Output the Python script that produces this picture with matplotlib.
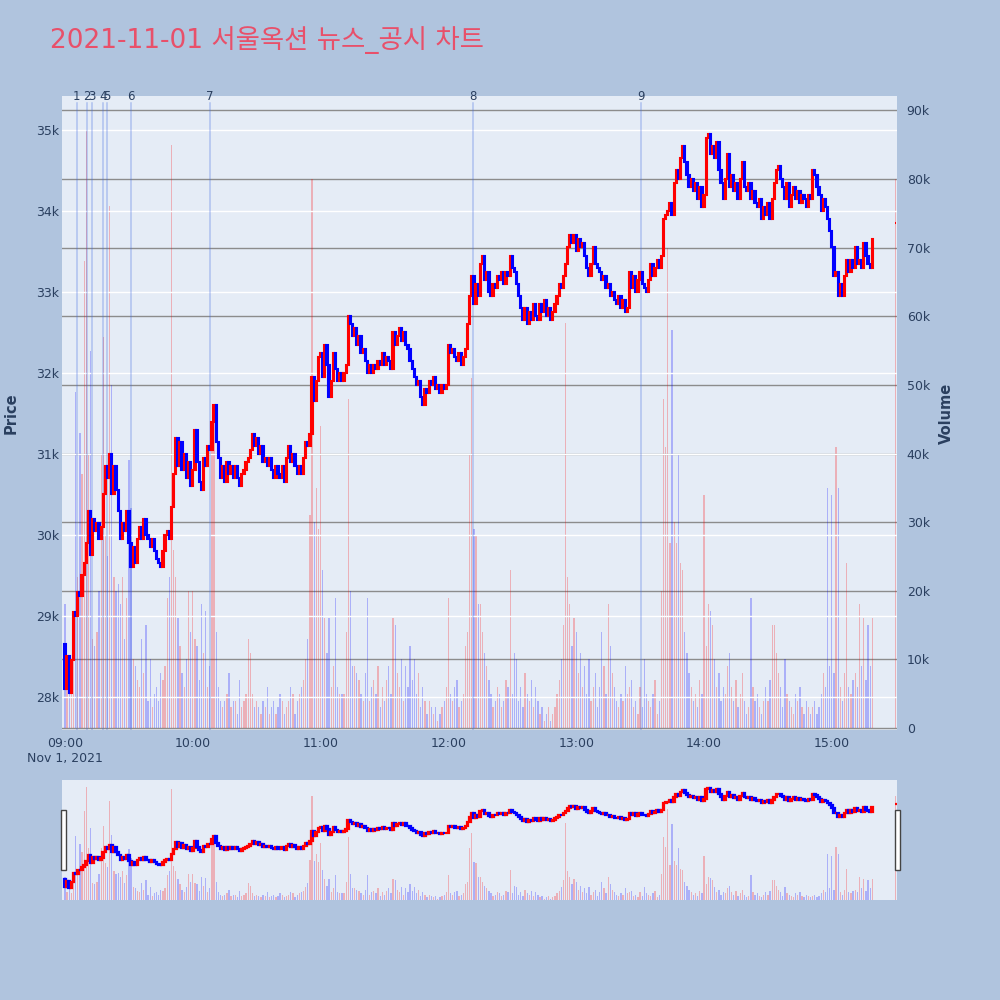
import numpy as np
import matplotlib.pyplot as plt
from matplotlib.patches import Rectangle

plt.rcParams['font.family'] = ['DejaVu Sans', 'Noto Sans CJK KR']

# 1-minute closes from 09:00 (index = minutes after 09:00)
close = [
    28100, 28500, 28050, 28450, 29050, 29000, 29300, 29250, 29500, 29650,
    29900, 30300, 29750, 30200, 30050, 30150, 29950, 30100, 30500, 30850,
    30700, 31000, 30500, 30850, 30550, 30300, 29950, 30150, 30050, 30300,
    29900, 29600, 29850, 29650, 29950, 30100, 29950, 30200, 30000, 29950,
    29850, 29950, 29800, 29700, 29650, 29600, 29800, 30000, 30050, 29950,
    30350, 30750, 31200, 30850, 31150, 30800, 31000, 30700, 30900, 30600,
    30800, 31300, 30900, 30650, 30550, 30950, 30850, 31100, 31050, 31400,
    31600, 31150, 30950, 30700, 30850, 30650, 30900, 30750, 30850, 30700,
    30850, 30700, 30600, 30750, 30800, 30900, 30950, 31050, 31250, 31100,
    31200, 31000, 31100, 30900, 30950, 30850, 30950, 30800, 30700, 30850,
    30750, 30700, 30850, 30650, 30950, 31100, 30900, 31000, 30850, 30750,
    30850, 30750, 30950, 31150, 31100, 31250, 31950, 31650, 31900, 32200,
    32250, 31950, 32350, 32100, 31700, 31900, 32250, 32050, 31900, 32000,
    31900, 32000, 32100, 32700, 32600, 32450, 32550, 32350, 32450, 32250,
    32300, 32150, 32000, 32100, 32000, 32100, 32050, 32150, 32100, 32250,
    32100, 32200, 32150, 32050, 32500, 32350, 32450, 32550, 32400, 32500,
    32350, 32300, 32150, 32050, 31950, 31850, 31900, 31700, 31600, 31800,
    31750, 31900, 31850, 31950, 31800, 31850, 31750, 31850, 31800, 31850,
    32350, 32250, 32300, 32200, 32150, 32250, 32100, 32200, 32300, 32600,
    32950, 33200, 32850, 33100, 32950, 33350, 33450, 33150, 33250, 33000,
    32950, 33100, 33050, 33200, 33150, 33250, 33100, 33250, 33200, 33450,
    33300, 33250, 33100, 32950, 32800, 32650, 32800, 32600, 32750, 32650,
    32850, 32700, 32650, 32850, 32750, 32900, 32700, 32800, 32650, 32750,
    32850, 32950, 33100, 33050, 33200, 33350, 33550, 33700, 33600, 33700,
    33500, 33650, 33550, 33600, 33450, 33300, 33200, 33350, 33550, 33350,
    33300, 33250, 33150, 33200, 33050, 33100, 32950, 33000, 32900, 32850,
    32950, 32800, 32900, 32750, 32800, 33250, 33050, 33200, 33000, 33150,
    33250, 33100, 33050, 33000, 33150, 33350, 33200, 33300, 33400, 33300,
    33450, 33900, 33950, 34000, 34100, 33950, 34350, 34500, 34400, 34650,
    34800, 34600, 34450, 34300, 34400, 34250, 34350, 34150, 34300, 34050,
    34200, 34900, 34950, 34700, 34800, 34650, 34850, 34500, 34350, 34150,
    34400, 34700, 34300, 34450, 34250, 34350, 34150, 34400, 34600, 34300,
    34250, 34350, 34150, 34250, 34100, 34050, 34150, 33900, 34050, 33950,
    34100, 33900, 34150, 34350, 34500, 34550, 34400, 34300, 34150, 34350,
    34050, 34200, 34300, 34150, 34250, 34100, 34200, 34150, 34050, 34200,
    34150, 34500, 34450, 34300, 34200, 34000, 34150, 34050, 33900, 33750,
    33550, 33200, 33250, 32950, 33100, 32950, 33200, 33400, 33250, 33400,
    33300, 33550, 33350, 33400, 33300, 33600, 33450, 33350, 33300, 33650,
]

# volume per minute, thousands of shares
volume_k = [
    18, 6, 9, 5, 14, 49, 22, 43, 37, 68,
    87, 40, 55, 13, 12, 14, 20, 40, 57, 28,
    25, 76, 50, 22, 20, 21, 18, 22, 13, 19,
    39, 32, 10, 9, 7, 6, 13, 8, 15, 4,
    10, 3, 5, 6, 4, 8, 7, 9, 19, 22,
    85, 26, 22, 16, 12, 8, 6, 10, 20, 14,
    20, 13, 12, 7, 18, 11, 17, 6, 9, 43,
    47, 14, 6, 4, 3, 4, 5, 8, 3, 4,
    4, 2, 7, 3, 4, 5, 13, 11, 5, 3,
    4, 3, 2, 4, 3, 6, 2, 3, 4, 2,
    3, 5, 4, 2, 3, 4, 6, 5, 2, 4,
    5, 6, 7, 10, 13, 31, 80, 30, 35, 29,
    44, 23, 16, 11, 16, 6, 9, 19, 6, 5,
    5, 5, 14, 48, 20, 9, 9, 8, 7, 5,
    4, 8, 19, 4, 6, 7, 5, 9, 3, 6,
    4, 7, 9, 5, 16, 15, 8, 6, 10, 4,
    9, 6, 12, 7, 10, 5, 8, 3, 6, 4,
    2, 4, 3, 2, 3, 1, 2, 3, 4, 6,
    19, 5, 4, 6, 7, 3, 4, 5, 12, 14,
    40, 51, 29, 28, 18, 18, 14, 11, 9, 7,
    5, 3, 4, 6, 5, 3, 4, 7, 6, 23,
    5, 11, 10, 4, 6, 3, 8, 5, 4, 7,
    3, 6, 4, 2, 3, 1, 2, 3, 1, 2,
    3, 5, 7, 10, 15, 59, 22, 18, 12, 16,
    14, 8, 11, 6, 9, 5, 10, 4, 6, 8,
    3, 6, 14, 9, 5, 18, 12, 8, 6, 4,
    3, 5, 4, 9, 5, 6, 7, 3, 4, 2,
    6, 3, 10, 5, 4, 3, 5, 7, 2, 4,
    20, 48, 41, 70, 27, 58, 30, 27, 40, 24,
    23, 14, 11, 8, 6, 4, 5, 3, 7, 5,
    34, 12, 18, 17, 15, 10, 6, 8, 4, 6,
    5, 9, 11, 6, 4, 7, 3, 5, 8, 4,
    2, 3, 19, 6, 4, 5, 3, 2, 4, 6,
    4, 7, 15, 15, 11, 8, 6, 3, 10, 5,
    4, 3, 2, 5, 4, 6, 3, 2, 4, 3,
    2, 3, 4, 2, 3, 5, 8, 6, 35, 9,
    34, 8, 41, 35, 6, 4, 8, 24, 6, 5,
    7, 8, 6, 18, 9, 16, 7, 15, 9, 16,
]

first_open = 28650
auction_minute = 390      # 15:30 closing auction
auction_price = 33850
auction_volume_k = 80

news_minutes = [5.6, 10.3, 12.7, 17.8, 19.7, 30.9, 68.0, 191.7, 270.5]
news_labels = ['1', '2', '3', '4', '5', '6', '7', '8', '9']

hour_ticks = [0, 60, 120, 180, 240, 300, 360]
hour_labels = ['09:00\nNov 1, 2021', '10:00', '11:00', '12:00', '13:00', '14:00', '15:00']
price_ticks = [28000, 29000, 30000, 31000, 32000, 33000, 34000, 35000]
vol_ticks = [0, 10000, 20000, 30000, 40000, 50000, 60000, 70000, 80000, 90000]

# ---- derived arrays
x = np.append(np.arange(len(close)), auction_minute)
c = np.array(close + [auction_price], dtype=float)
o = np.concatenate([[first_open], c[:-1]])
o[-1] = auction_price
v = np.array(volume_k + [auction_volume_k]) * 1000.0
up = c >= o
ccol = np.where(up, '#ff0000', '#0000ff')
vcol = [(1, 0, 0, 0.25) if u else (0, 0, 1, 0.25) for u in up]

TXT = '#2a3f5f'
PLOT_BG = '#e5ecf6'

fig = plt.figure(figsize=(10, 10), dpi=100)
fig.patch.set_facecolor('#b0c4de')


def draw_candles(axis, width, lw):
    lo = np.minimum(o, c)
    h = np.abs(c - o)
    axis.bar(x, h, width, bottom=lo, color=ccol, edgecolor=ccol,
             linewidth=lw, zorder=3)


# ---- main chart
ax = fig.add_axes([0.062, 0.270, 0.835, 0.634])
ax_v = ax.twinx()
ax.set_zorder(ax_v.get_zorder() + 1)
ax.patch.set_visible(False)
ax_v.patch.set_visible(True)
ax_v.patch.set_facecolor(PLOT_BG)

ax_v.bar(x, v, 0.6, color=vcol, zorder=2)
ax_v.set_ylim(-290, 92100)
ax_v.set_yticks(vol_ticks)
ax_v.set_yticklabels(['0'] + ['%dk' % (t // 1000) for t in vol_ticks[1:]])
ax_v.grid(axis='y', color='#8c8c8c', lw=1)
ax_v.set_axisbelow(True)

draw_candles(ax, 0.6, 1.5)
ax.set_ylim(27590, 35420)
ax.set_yticks(price_ticks)
ax.set_yticklabels(['%dk' % (t // 1000) for t in price_ticks])
ax.grid(axis='y', color='white', lw=1)
ax.set_axisbelow(True)
ax.set_xlim(-1.4, 390.6)
ax.set_xticks(hour_ticks)
ax.set_xticklabels(hour_labels)

for m, lab in zip(news_minutes, news_labels):
    ax.axvline(m, ymin=0, ymax=0.989, color=(0.25, 0.41, 0.88, 0.33), lw=1.1, zorder=1)
    ax.text(m, 1.0, lab, transform=ax.get_xaxis_transform(), ha='center',
            va='center', fontsize=8.5, color=TXT, clip_on=False)

for a in (ax, ax_v):
    for s in a.spines.values():
        s.set_visible(False)
ax.tick_params(axis='y', length=0, pad=2, labelsize=9, labelcolor=TXT)
ax.tick_params(axis='x', length=0, pad=5, labelsize=9, labelcolor=TXT)
ax_v.tick_params(axis='y', length=0, pad=7, labelsize=9, labelcolor=TXT)

fig.text(0.011, 0.587, 'Price', rotation=90, ha='center', va='center',
         fontsize=10.5, fontweight='bold', color=TXT)
fig.text(0.946, 0.587, 'Volume', rotation=90, ha='center', va='center',
         fontsize=10.5, fontweight='bold', color=TXT)
fig.text(0.05, 0.96, '2021-11-01 서울옥션 뉴스_공시 차트', ha='left', va='center',
         fontsize=19, color='#e8506a')

# ---- range slider
axs = fig.add_axes([0.062, 0.100, 0.835, 0.120])
axs.set_facecolor(PLOT_BG)
axs.bar(x, v, 0.6, color=vcol)
axs.set_ylim(0, 92000)
axs2 = axs.twinx()
draw_candles(axs2, 0.8, 1.6)
axs2.set_ylim(27200, 35500)
for a in (axs, axs2):
    a.set_xlim(-1.4, 390.6)
    a.set_xticks([])
    a.set_yticks([])
    for s in a.spines.values():
        s.set_visible(False)

for hx in (0.061, 0.895):
    fig.add_artist(Rectangle((hx, 0.130), 0.005, 0.060, transform=fig.transFigure,
                             facecolor='white', edgecolor='#444444', lw=1))

fig.savefig('out.png', dpi=100, facecolor=fig.get_facecolor())
